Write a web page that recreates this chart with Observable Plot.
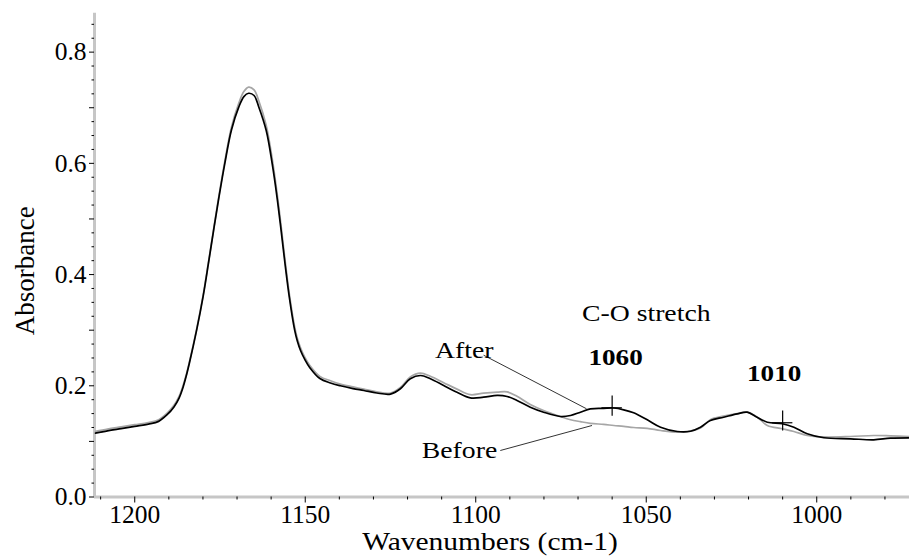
<!DOCTYPE html>
<html>
<head>
<meta charset="utf-8">
<script src="https://cdn.jsdelivr.net/npm/d3@7"></script>
<script src="https://cdn.jsdelivr.net/npm/@observablehq/plot@0.6"></script>
<style>
  html, body { margin: 0; padding: 0; background: #fff; }
  #chart svg { display: block; }
</style>
</head>
<body>
<div id="chart"></div>
<script>
// ---- data ----
const wavenumbers = [
  1211.5, 1208, 1204, 1200, 1196,
  1193, 1190.5, 1188.5, 1187, 1185.8, 1184.8, 1184.0, 1181.85, 1179.97, 1178.39, 1176.86, 1175.28, 1173.58,
  1171.64, 1169.5, 1168, 1166.6, 1165, 1163.6, 1161.44, 1159.68, 1158.27, 1157.07, 1155.92, 1154.66,
  1153.1, 1152.3, 1151.35, 1150.1, 1148.7, 1145.7,
  1142.6, 1139.7, 1136, 1132.8, 1129, 1125, 1122.1, 1119.2, 1116.2, 1113.3, 1109.4, 1105.5,
  1101.6, 1097.7, 1093.7, 1090.8, 1087.9, 1084, 1080.1, 1075.2, 1072.2, 1069.3, 1066.4, 1062.5, 1059.5, 1056.6,
  1053.7, 1049.7, 1045.8, 1040.9, 1037, 1034.1, 1031.2, 1027.3, 1023.3, 1020.4, 1017.5, 1014.5, 1010.1, 1006.7,
  1002.8, 997.9, 990.1, 983.3, 978.4, 972.8
];
const afterValues = [
  0.115, 0.119, 0.123, 0.127, 0.131,
  0.136, 0.148, 0.162, 0.178, 0.198, 0.220, 0.240, 0.300, 0.360, 0.420, 0.480, 0.540, 0.600,
  0.660, 0.701, 0.720, 0.726, 0.722, 0.701, 0.659, 0.599, 0.539, 0.479, 0.419, 0.359,
  0.300, 0.280, 0.263, 0.247, 0.233, 0.213,
  0.205, 0.200, 0.195, 0.1915, 0.187, 0.185, 0.1946, 0.2126, 0.2185, 0.2126, 0.2005, 0.1885,
  0.1784, 0.1795, 0.1826, 0.1808, 0.1736, 0.1615, 0.1525, 0.1448, 0.1466, 0.1525, 0.1586, 0.1595, 0.1600, 0.1568,
  0.1514, 0.1388, 0.1255, 0.1178, 0.1183, 0.1255, 0.1376, 0.1435, 0.1496, 0.1525, 0.1435, 0.1345, 0.1317, 0.1255,
  0.1137, 0.1065, 0.1047, 0.1029, 0.1058, 0.1065
];
const beforeValues = [
  0.118, 0.122, 0.126, 0.130, 0.134,
  0.139, 0.151, 0.165, 0.181, 0.201, 0.222, 0.242, 0.302, 0.362, 0.422, 0.482, 0.543, 0.604,
  0.665, 0.708, 0.729, 0.737, 0.732, 0.712, 0.668, 0.608, 0.547, 0.487, 0.426, 0.365,
  0.306, 0.285, 0.268, 0.251, 0.237, 0.217,
  0.209, 0.203, 0.198, 0.194, 0.189, 0.187, 0.197, 0.216, 0.2227, 0.217, 0.2055, 0.194,
  0.184, 0.1867, 0.1885, 0.189, 0.181, 0.1664, 0.1556, 0.1448, 0.139, 0.1355, 0.1325, 0.1305, 0.1286, 0.127,
  0.125, 0.1235, 0.1196, 0.1166, 0.119, 0.124, 0.139, 0.1453, 0.150, 0.1525, 0.144, 0.1286, 0.1227, 0.1178,
  0.1106, 0.108, 0.1088, 0.1106, 0.110, 0.1088
];

// peak markers (+) on the "After" trace
const markerWavenumbers = [1060, 1010];
const markerValues = [0.1604, 0.1335];

// annotation texts
const noteLabels = ["C-O stretch"];
const noteX = [1050];
const noteY = [0.316];
const boldLabels = ["1060", "1010"];
const boldX = [1059, 1012.5];
const boldY = [0.238, 0.2077];
const seriesLabels = ["After", "Before"];
const seriesLabelX = [1094.8, 1093.7];
const seriesLabelY = [0.250, 0.0705];
// leader lines: from label to curve
const leaderX1 = [1097.7, 1092.8];
const leaderY1 = [0.255, 0.0836];
const leaderX2 = [1067.5, 1065.9];
const leaderY2 = [0.1586, 0.1286];

// axes
const xDomain = [1211.8, 972.8];
const yDomain = [0, 0.87];
const xTicksMajor = [1200, 1150, 1100, 1050, 1000];
const xTicksMinor = [1210, 1190, 1180, 1170, 1160, 1140, 1130, 1120, 1110, 1090, 1080, 1070, 1060, 1040, 1030, 1020, 1010, 990, 980];
const yTicksMajor = [0, 0.1, 0.2, 0.3, 0.4, 0.5, 0.6, 0.7, 0.8];
const yTickLabels = [0, 0.2, 0.4, 0.6, 0.8];
const yTicksMinor = [0.025, 0.05, 0.075, 0.125, 0.15, 0.175, 0.225, 0.25, 0.275, 0.325, 0.35, 0.375,
  0.425, 0.45, 0.475, 0.525, 0.55, 0.575, 0.625, 0.65, 0.675, 0.725, 0.75, 0.775, 0.825, 0.85];
const xTitle = "Wavenumbers (cm-1)";
const yTitle = "Absorbance";
const yTitleAt = 0.407;   // value level at which the y title is centred

// ---- tables built from the arrays ----
const after = wavenumbers.map((w, i) => ({w, a: afterValues[i]}));
const before = wavenumbers.map((w, i) => ({w, a: beforeValues[i]}));
const markers = markerWavenumbers.map((w, i) => ({w, a: markerValues[i]}));
const notes = noteLabels.map((t, i) => ({t, w: noteX[i], a: noteY[i]}));
const bolds = boldLabels.map((t, i) => ({t, w: boldX[i], a: boldY[i]}));
const series = seriesLabels.map((t, i) => ({t, w: seriesLabelX[i], a: seriesLabelY[i]}));
const leaders = leaderX1.map((x1, i) => ({x1, y1: leaderY1[i], x2: leaderX2[i], y2: leaderY2[i]}));

const AXIS_GRAY = "#c6c6c6";
const FONT = "'Liberation Serif', 'Times New Roman', Times, serif";

const chart = Plot.plot({
  width: 909,
  height: 558,
  marginLeft: 94,
  marginRight: 0,
  marginTop: 12.7,
  marginBottom: 61.5,
  x: {domain: xDomain},
  y: {domain: yDomain},
  style: {fontFamily: FONT, color: "#000", background: "#fff", overflow: "visible"},
  marks: [
    // gray axis lines
    Plot.ruleY([yDomain[0]], {stroke: AXIS_GRAY, strokeWidth: 3}),
    Plot.ruleX([xDomain[0]], {stroke: AXIS_GRAY, strokeWidth: 3}),
    // ticks
    Plot.axisX({ticks: xTicksMinor, tickSize: 3, tickFormat: () => "", label: null}),
    Plot.axisX({ticks: xTicksMajor, tickSize: 6, tickPadding: 1.6, tickFormat: d => String(d), fontSize: 25.5, label: null}),
    Plot.axisY({ticks: yTicksMinor, tickSize: 2.5, tickFormat: () => "", label: null}),
    Plot.axisY({ticks: yTicksMajor, tickSize: 5, tickPadding: 3,
      tickFormat: d => yTickLabels.includes(d) ? d.toFixed(1) : "", fontSize: 25.5, label: null}),
    // axis titles
    Plot.text([xTitle], {text: d => d, frameAnchor: "bottom", textAnchor: "middle", lineAnchor: "bottom", dx: -12, dy: 53, fontSize: 25, className: "stretch"}),
    Plot.text([yTitle], {text: d => d, x: () => xDomain[0], y: () => yTitleAt, textAnchor: "middle", rotate: -90, dx: -69, fontSize: 27}),
    // spectra
    Plot.line(before, {x: "w", y: "a", stroke: "#a6a6a6", strokeWidth: 1.7, curve: "catmull-rom"}),
    Plot.line(after, {x: "w", y: "a", stroke: "#000", strokeWidth: 1.7, curve: "catmull-rom"}),
    // + markers
    Plot.ruleX(markers, {x: "w", y1: d => d.a - 0.015, y2: d => d.a + 0.021, stroke: "#000", strokeWidth: 1.2}),
    Plot.ruleY(markers, {y: "a", x1: d => d.w + 3, x2: d => d.w - 3, stroke: "#000", strokeWidth: 1.2}),
    // leaders
    Plot.link(leaders, {x1: "x1", y1: "y1", x2: "x2", y2: "y2", stroke: "#333", strokeWidth: 1}),
    // annotations
    Plot.text(notes, {x: "w", y: "a", text: "t", lineAnchor: "bottom", fontSize: 23.5, className: "stretch"}),
    Plot.text(bolds, {x: "w", y: "a", text: "t", lineAnchor: "bottom", fontSize: 23, fontWeight: "bold", className: "stretch"}),
    Plot.text(series, {x: "w", y: "a", text: "t", lineAnchor: "bottom", textAnchor: "end", fontSize: 23.5, className: "stretch"})
  ]
});

document.getElementById("chart").appendChild(chart);

// the reference figure's annotation text is horizontally stretched: widen it
try {
  const S = 1.18;
  chart.querySelectorAll(".stretch text").forEach(el => {
    if (!el.textContent) return;
    const len = el.getComputedTextLength();
    if (len > 0) {
      el.setAttribute("textLength", (len * S).toFixed(2));
      el.setAttribute("lengthAdjust", "spacingAndGlyphs");
    }
  });
} catch (e) { console.error(e); }
</script>
</body>
</html>
